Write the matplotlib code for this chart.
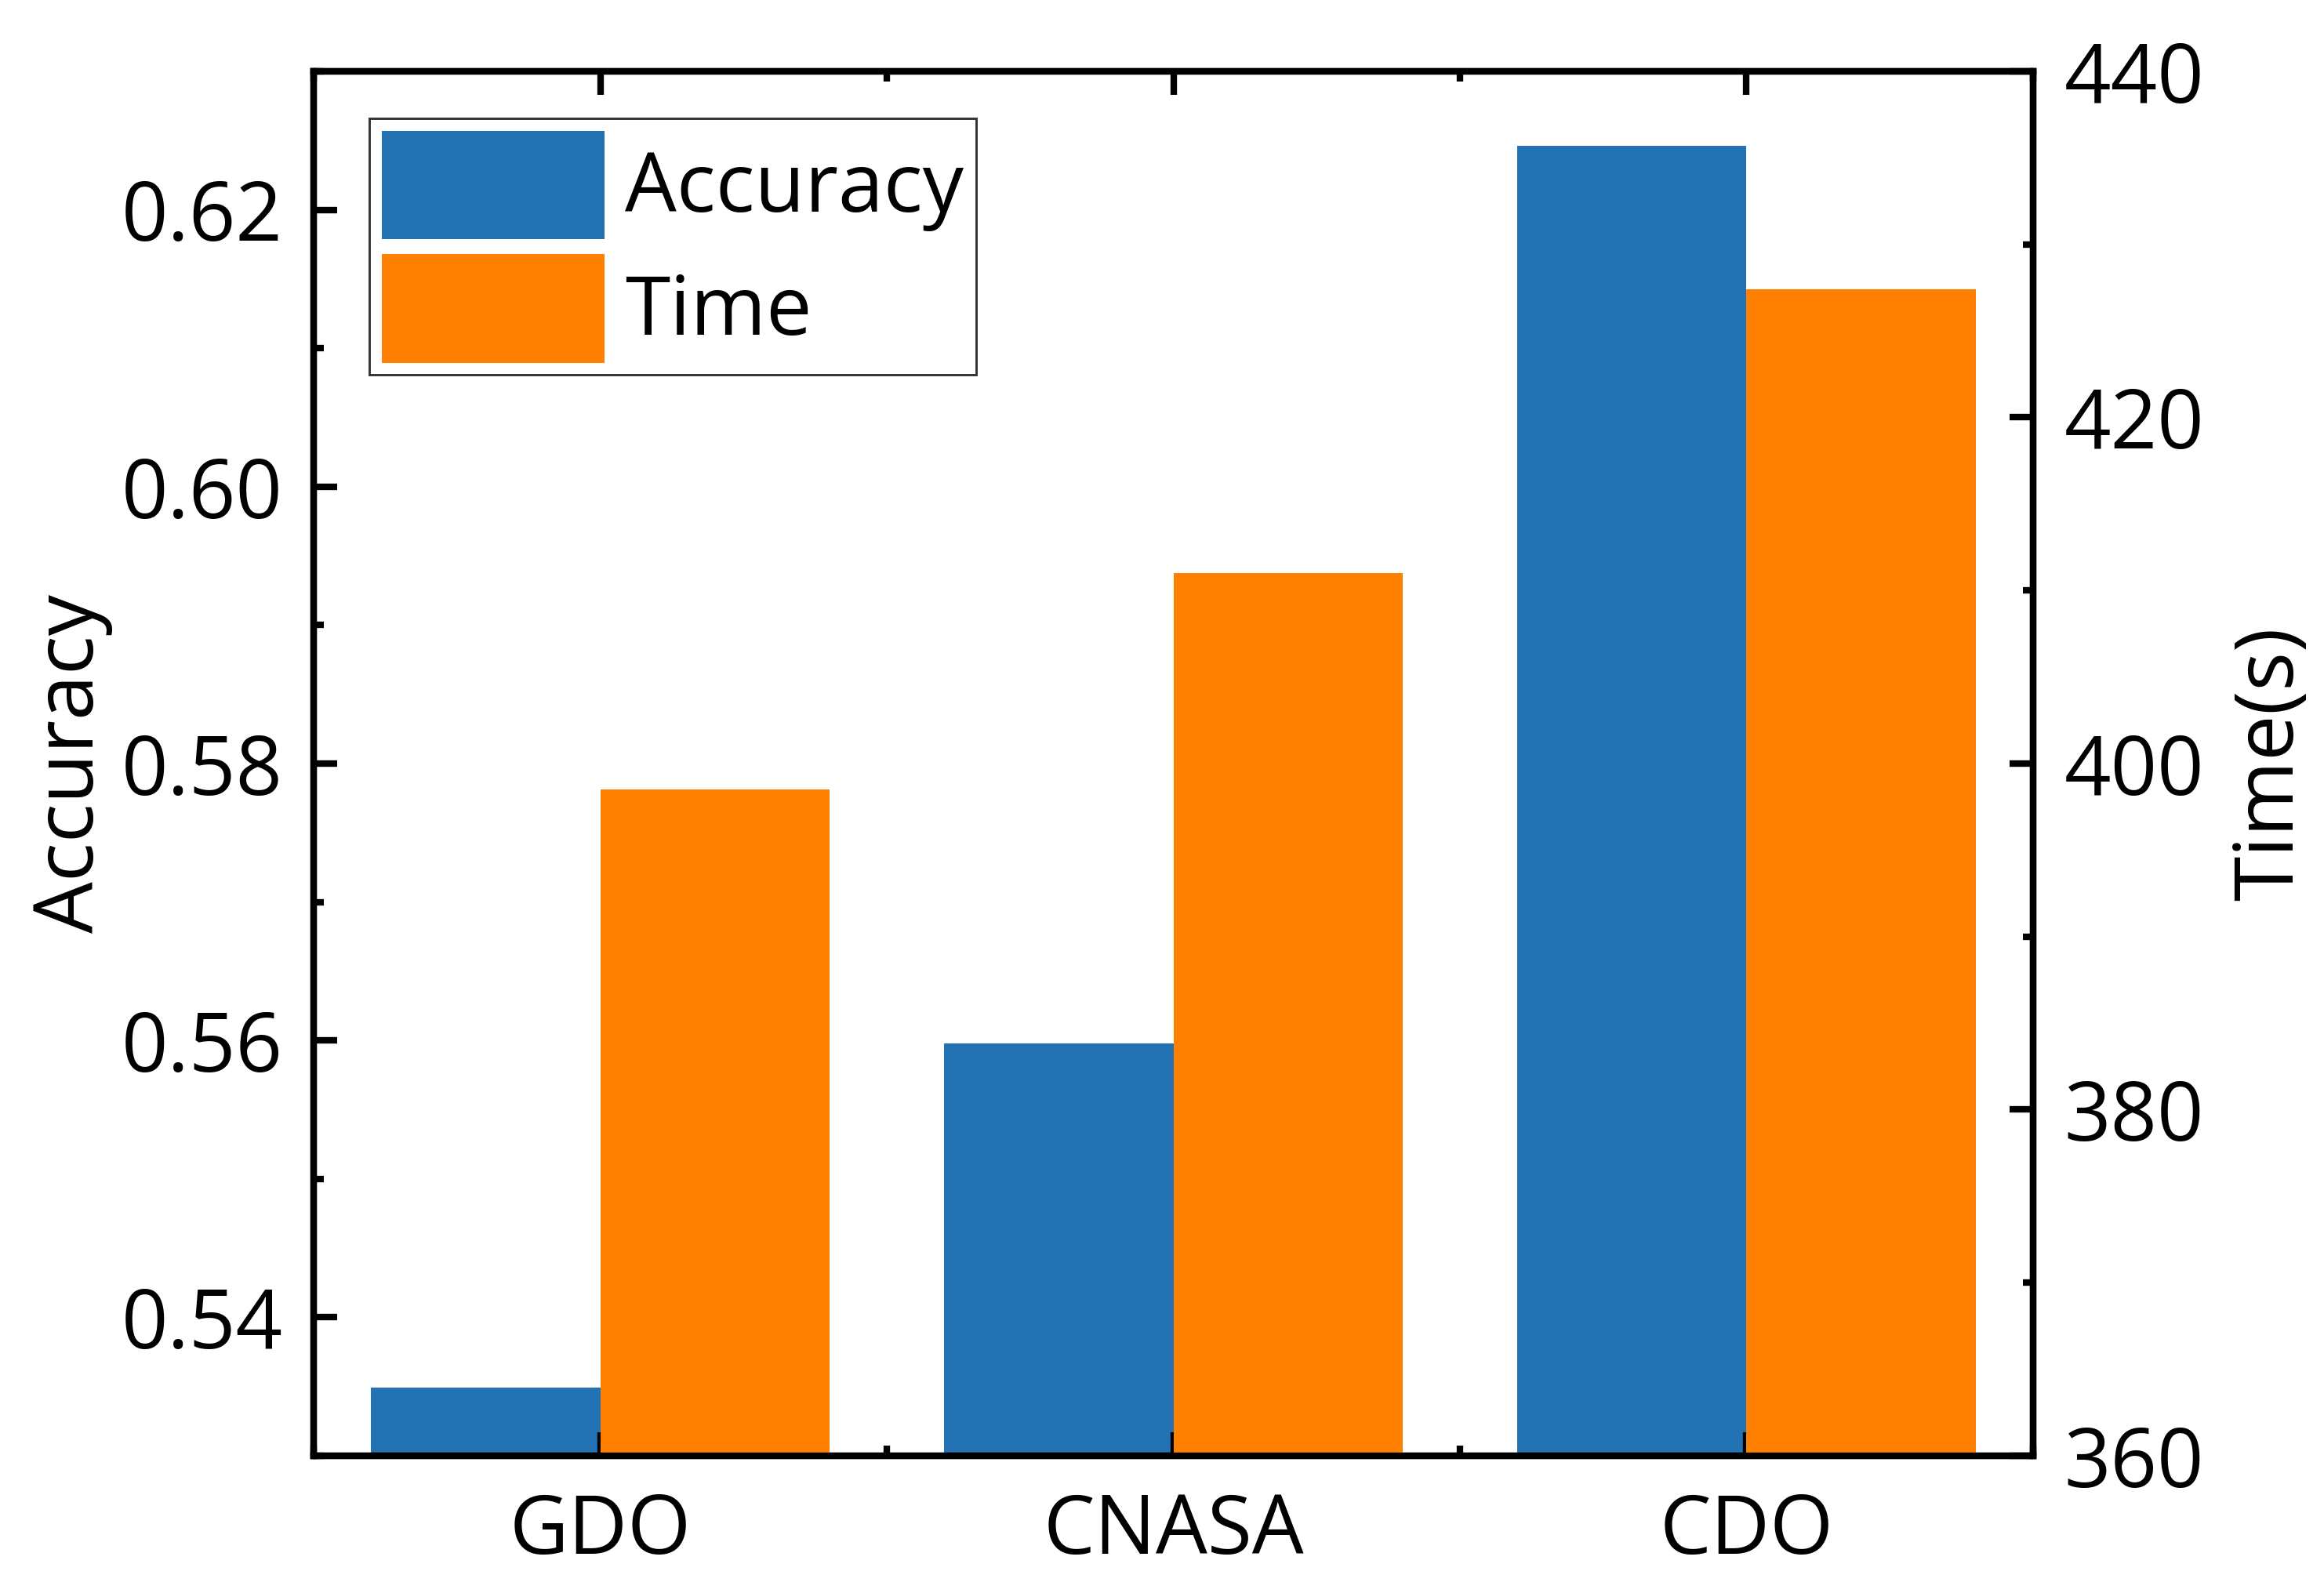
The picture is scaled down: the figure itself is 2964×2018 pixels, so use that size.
import matplotlib
matplotlib.use("Agg")
import matplotlib.pyplot as plt
import numpy as np
from matplotlib.ticker import MultipleLocator

# data
methods = ["GDO", "CNASA", "CDO"]
accuracy = [0.5349, 0.5598, 0.6246]
time_s = [398.5, 411.0, 427.4]

blue = "#2272b4"
orange = "#ff8000"

plt.rcParams["font.family"] = ["Open Sans", "DejaVu Sans"]
plt.rcParams["font.size"] = 25

fig = plt.figure(figsize=(9.88, 6.727), dpi=300)
ax1 = fig.add_axes([0.135, 0.0798, 0.8748 - 0.135, 0.9549 - 0.0798])
ax2 = ax1.twinx()

x = np.arange(len(methods))
w = 0.4
b1 = ax1.bar(x - w / 2, accuracy, w, color=blue, label="Accuracy")
b2 = ax2.bar(x + w / 2, time_s, w, color=orange, label="Time")

ax1.set_xlim(-0.5, 2.5)
ax1.set_ylim(0.53, 0.63)
ax2.set_ylim(360, 440)

ax1.set_xticks(x)
ax1.set_xticklabels(methods)
ax1.xaxis.set_minor_locator(MultipleLocator(0.5))
ax1.yaxis.set_major_locator(MultipleLocator(0.02))
ax1.yaxis.set_minor_locator(MultipleLocator(0.01))
ax1.yaxis.set_major_formatter(matplotlib.ticker.FormatStrFormatter("%.2f"))
ax2.yaxis.set_major_locator(MultipleLocator(20))
ax2.yaxis.set_minor_locator(MultipleLocator(10))

for ax in (ax1, ax2):
    for s in ax.spines.values():
        s.set_linewidth(2)
    ax.tick_params(which="major", direction="in", length=7.3, width=2, pad=9.5)
    ax.tick_params(which="minor", direction="in", length=3.2, width=2)

ax1.tick_params(axis="x", which="both", top=True, bottom=True)
ax1.tick_params(axis="x", which="major", pad=11)
ax1.tick_params(axis="y", which="both", left=True, right=False)
ax2.tick_params(axis="y", which="both", left=False, right=True)

ax1.set_ylabel("Accuracy", labelpad=2.5)
ax2.set_ylabel("Time(s)", labelpad=8)

leg = ax2.legend([b1, b2], ["Accuracy", "Time"], loc="upper left",
                 bbox_to_anchor=(0.0324, 0.966), borderaxespad=0,
                 frameon=True, fancybox=False, edgecolor="black",
                 handlelength=2.73, handleheight=1.67, labelspacing=0.18,
                 borderpad=0.15, handletextpad=0.25)
leg.get_frame().set_linewidth(0.7)

fig.savefig("out.png", dpi=300)
